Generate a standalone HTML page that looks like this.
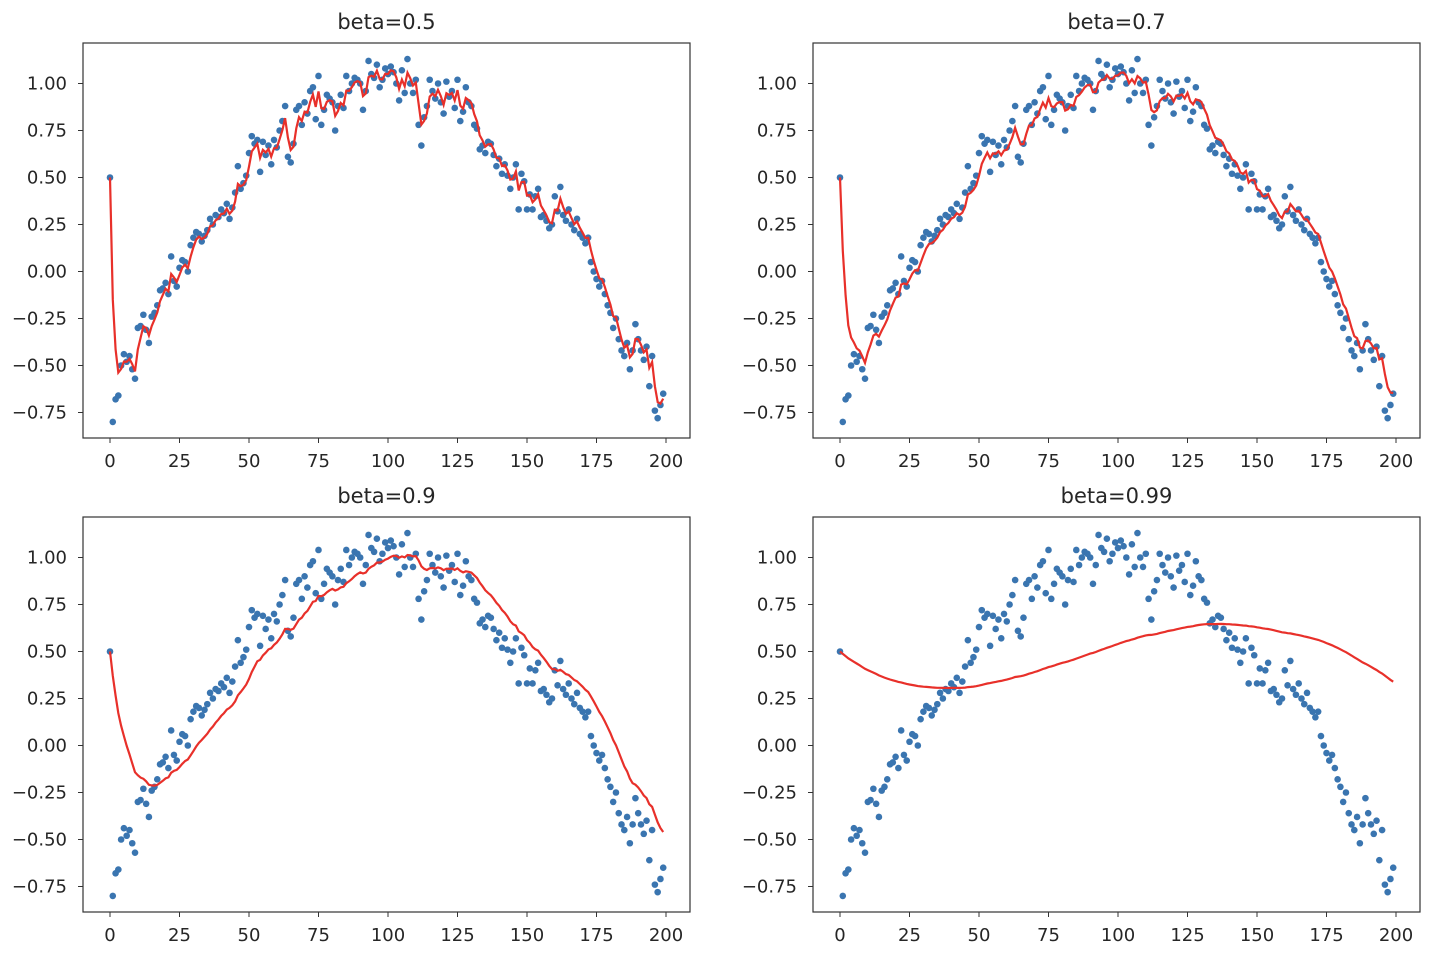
<!DOCTYPE html>
<html><head><meta charset="utf-8"><style>
body{margin:0;background:#fff}
svg text{font-family:"DejaVu Sans","Liberation Sans",sans-serif;fill:#262626}
</style></head><body>
<svg id="fig" width="1454" height="968" xmlns="http://www.w3.org/2000/svg"></svg>
<script>
const xTicks=[0,25,50,75,100,125,150,175,200];
const yTicks=[-0.75,-0.5,-0.25,0,0.25,0.5,0.75,1.0];
const yTickLabels=["\u22120.75","\u22120.50","\u22120.25","0.00","0.25","0.50","0.75","1.00"];
const betas=[0.5,0.7,0.9,0.99];
const titles=["beta=0.5","beta=0.7","beta=0.9","beta=0.99"];
const data=[
0.50,-0.80,-0.68,-0.66,-0.50,-0.44,-0.48,-0.45,-0.52,-0.57,
-0.30,-0.29,-0.23,-0.31,-0.38,-0.24,-0.22,-0.18,-0.10,-0.09,
-0.06,-0.12,0.08,-0.05,-0.08,0.02,0.06,0.05,0.00,0.14,
0.18,0.21,0.20,0.16,0.19,0.22,0.28,0.25,0.30,0.29,
0.33,0.31,0.36,0.28,0.34,0.42,0.56,0.44,0.47,0.51,
0.63,0.72,0.68,0.70,0.53,0.69,0.62,0.67,0.57,0.70,
0.66,0.75,0.80,0.88,0.61,0.58,0.68,0.86,0.88,0.78,
0.90,0.84,0.96,0.98,0.81,1.04,0.78,0.86,0.94,0.92,
0.90,0.75,0.88,0.94,0.87,1.04,0.96,1.00,1.03,1.02,
1.00,0.86,0.96,1.12,1.05,1.03,1.10,0.98,1.02,1.08,
1.05,1.09,1.06,1.00,0.91,1.07,0.95,1.13,1.00,0.95,
1.02,0.78,0.67,0.82,0.88,1.02,0.96,0.92,1.00,0.90,
0.84,1.01,0.93,0.96,0.87,1.02,0.80,0.85,0.98,0.90,
0.88,0.78,0.76,0.65,0.67,0.63,0.69,0.68,0.62,0.56,
0.60,0.52,0.57,0.51,0.44,0.50,0.57,0.33,0.52,0.48,
0.33,0.41,0.33,0.40,0.44,0.29,0.30,0.27,0.23,0.25,
0.40,0.32,0.45,0.30,0.27,0.33,0.25,0.22,0.28,0.20,
0.18,0.15,0.18,0.05,0.00,-0.04,-0.08,-0.05,-0.12,-0.18,
-0.22,-0.30,-0.25,-0.36,-0.42,-0.45,-0.38,-0.52,-0.42,-0.28,
-0.36,-0.42,-0.47,-0.40,-0.61,-0.45,-0.74,-0.78,-0.71,-0.65];

const NS="http://www.w3.org/2000/svg";
const svg=document.getElementById('fig');
function mk(tag,attrs,parent){const e=document.createElementNS(NS,tag);for(const k in attrs)e.setAttribute(k,attrs[k]);(parent||svg).appendChild(e);return e;}
const panels=[{x:83,y:43},{x:813,y:43},{x:83,y:517},{x:813,y:517}];
const W=607,H=395;
panels.forEach((p,i)=>{
  const g=mk('g',{});
  
  
  const sx=v=>p.x+27+v*2.78;
  const sy=v=>p.y+228.5-v*188;
  const t=mk('text',{x:p.x+W/2,y:p.y-14,'text-anchor':'middle','font-size':'21'},g);
  t.textContent=titles[i];
  
  
  xTicks.forEach(v=>{
    mk('line',{x1:sx(v),x2:sx(v),y1:p.y+H,y2:p.y+H+5,stroke:'#333','stroke-width':1},g);
    const l=mk('text',{x:sx(v),y:p.y+H+29,'text-anchor':'middle','font-size':'18'},g);
    l.textContent=v;
    
    
  });
  yTicks.forEach((v,j)=>{
    mk('line',{x1:p.x-5,x2:p.x,y1:sy(v),y2:sy(v),stroke:'#333','stroke-width':1},g);
    const l=mk('text',{x:p.x-16,y:sy(v)+6,'text-anchor':'end','font-size':'18'},g);
    l.textContent=yTickLabels[j];
    
    
  });
  data.forEach((v,k)=>{
    const c=mk('circle',{cx:sx(k),cy:sy(v),r:3.3,fill:'#3a75b0'},g);
    
    
  });
  let e=data[0];const pts=[];
  data.forEach((v,k)=>{if(k>0)e=betas[i]*e+(1-betas[i])*v;pts.push(sx(k).toFixed(1)+','+sy(e).toFixed(1));});
  const pl=mk('polyline',{points:pts.join(' '),fill:'none',stroke:'#e8302a','stroke-width':2.2},g);
  
  
  const fr=mk('rect',{x:p.x,y:p.y,width:W,height:H,fill:'none',stroke:'#333','stroke-width':1.2},g);
  
  
});
</script>
</body></html>
